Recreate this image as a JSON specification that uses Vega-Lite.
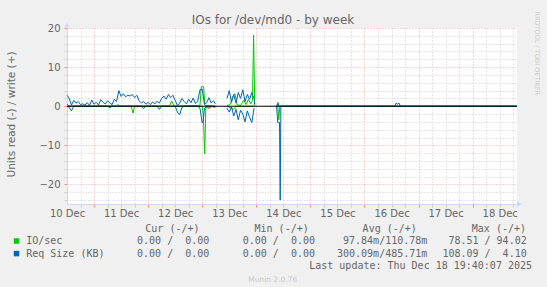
{
  "$schema": "https://vega.github.io/schema/vega-lite/v6.json",
  "width": 450,
  "height": 176,
  "autosize": {"type": "none"},
  "padding": {"left": 67, "top": 28, "right": 30, "bottom": 83},
  "background": "#f0f0f0",
  "config": {
    "view": {"fill": "#ffffff", "stroke": null},
    "font": "DejaVu Sans",
    "axis": {"labelFont": "DejaVu Sans", "titleFont": "DejaVu Sans", "labelColor": "#666666", "titleColor": "#666666"}
  },
  "datasets": {
    "io": [
      {"h":12,"s":"IO/sec","d":"w","seg":1,"v":0.5},{"h":13,"s":"IO/sec","d":"w","seg":1,"v":0.1},{"h":34,"s":"IO/sec","d":"w","seg":1,"v":0.1},{"h":34.6,"s":"IO/sec","d":"w","seg":1,"v":0.5},{"h":35.2,"s":"IO/sec","d":"w","seg":1,"v":0.1},{"h":57.5,"s":"IO/sec","d":"w","seg":1,"v":0.1},{"h":58.5,"s":"IO/sec","d":"w","seg":1,"v":1.3},{"h":59.5,"s":"IO/sec","d":"w","seg":1,"v":0.1},{"h":71,"s":"IO/sec","d":"w","seg":1,"v":0.2},{"h":71.6,"s":"IO/sec","d":"w","seg":1,"v":5.0},{"h":72.6,"s":"IO/sec","d":"w","seg":1,"v":5.0},{"h":73.2,"s":"IO/sec","d":"w","seg":1,"v":0.2},{"h":77.8,"s":"IO/sec","d":"w","seg":1,"v":0.1},
      {"h":83,"s":"IO/sec","d":"w","seg":2,"v":0.1},{"h":84.5,"s":"IO/sec","d":"w","seg":2,"v":0.5},{"h":85.5,"s":"IO/sec","d":"w","seg":2,"v":2.5},{"h":86.5,"s":"IO/sec","d":"w","seg":2,"v":3.2},{"h":87.5,"s":"IO/sec","d":"w","seg":2,"v":0.4},{"h":89,"s":"IO/sec","d":"w","seg":2,"v":0.2},{"h":90.5,"s":"IO/sec","d":"w","seg":2,"v":1.6},{"h":91.5,"s":"IO/sec","d":"w","seg":2,"v":0.4},{"h":92.5,"s":"IO/sec","d":"w","seg":2,"v":1.8},{"h":93.5,"s":"IO/sec","d":"w","seg":2,"v":0.6},{"h":94.3,"s":"IO/sec","d":"w","seg":2,"v":1.5},{"h":94.8,"s":"IO/sec","d":"w","seg":2,"v":18.2},{"h":95.3,"s":"IO/sec","d":"w","seg":2,"v":0.2},
      {"h":105,"s":"IO/sec","d":"w","seg":3,"v":0},{"h":105.6,"s":"IO/sec","d":"w","seg":3,"v":1.0},{"h":106.1,"s":"IO/sec","d":"w","seg":3,"v":0},{"h":211.5,"s":"IO/sec","d":"w","seg":3,"v":0},
      {"h":12,"s":"IO/sec","d":"r","seg":1,"v":0},{"h":40.5,"s":"IO/sec","d":"r","seg":1,"v":0},{"h":41.3,"s":"IO/sec","d":"r","seg":1,"v":-1.8},{"h":42,"s":"IO/sec","d":"r","seg":1,"v":0},{"h":72,"s":"IO/sec","d":"r","seg":1,"v":0},{"h":72.5,"s":"IO/sec","d":"r","seg":1,"v":-2.5},{"h":73.1,"s":"IO/sec","d":"r","seg":1,"v":-12.2},{"h":73.6,"s":"IO/sec","d":"r","seg":1,"v":-0.3},{"h":77.8,"s":"IO/sec","d":"r","seg":1,"v":0},
      {"h":83,"s":"IO/sec","d":"r","seg":2,"v":0},{"h":86,"s":"IO/sec","d":"r","seg":2,"v":-0.8},{"h":87,"s":"IO/sec","d":"r","seg":2,"v":0},{"h":95.3,"s":"IO/sec","d":"r","seg":2,"v":0},
      {"h":105,"s":"IO/sec","d":"r","seg":3,"v":0},{"h":105.6,"s":"IO/sec","d":"r","seg":3,"v":-0.3},{"h":106,"s":"IO/sec","d":"r","seg":3,"v":-3.5},{"h":106.4,"s":"IO/sec","d":"r","seg":3,"v":0},{"h":211.5,"s":"IO/sec","d":"r","seg":3,"v":0},
      {"h":12,"s":"Req Size (KB)","d":"w","seg":1,"v":2.8},{"h":13,"s":"Req Size (KB)","d":"w","seg":1,"v":2.0},{"h":14,"s":"Req Size (KB)","d":"w","seg":1,"v":0.3},{"h":15,"s":"Req Size (KB)","d":"w","seg":1,"v":1.5},{"h":16,"s":"Req Size (KB)","d":"w","seg":1,"v":0.8},{"h":17,"s":"Req Size (KB)","d":"w","seg":1,"v":1.2},{"h":18,"s":"Req Size (KB)","d":"w","seg":1,"v":0.4},{"h":19,"s":"Req Size (KB)","d":"w","seg":1,"v":0.6},{"h":20,"s":"Req Size (KB)","d":"w","seg":1,"v":0.3},{"h":21,"s":"Req Size (KB)","d":"w","seg":1,"v":0.9},{"h":22,"s":"Req Size (KB)","d":"w","seg":1,"v":0.2},{"h":23,"s":"Req Size (KB)","d":"w","seg":1,"v":1.6},{"h":24,"s":"Req Size (KB)","d":"w","seg":1,"v":0.5},{"h":25,"s":"Req Size (KB)","d":"w","seg":1,"v":1.0},{"h":26,"s":"Req Size (KB)","d":"w","seg":1,"v":0.3},{"h":27,"s":"Req Size (KB)","d":"w","seg":1,"v":1.7},{"h":28,"s":"Req Size (KB)","d":"w","seg":1,"v":1.0},{"h":29,"s":"Req Size (KB)","d":"w","seg":1,"v":0.6},{"h":30,"s":"Req Size (KB)","d":"w","seg":1,"v":1.4},{"h":31,"s":"Req Size (KB)","d":"w","seg":1,"v":0.9},{"h":32,"s":"Req Size (KB)","d":"w","seg":1,"v":0.4},{"h":33,"s":"Req Size (KB)","d":"w","seg":1,"v":1.8},{"h":34,"s":"Req Size (KB)","d":"w","seg":1,"v":1.2},{"h":35,"s":"Req Size (KB)","d":"w","seg":1,"v":4.0},{"h":36,"s":"Req Size (KB)","d":"w","seg":1,"v":2.5},{"h":37,"s":"Req Size (KB)","d":"w","seg":1,"v":3.2},{"h":38,"s":"Req Size (KB)","d":"w","seg":1,"v":2.4},{"h":39,"s":"Req Size (KB)","d":"w","seg":1,"v":2.8},{"h":40,"s":"Req Size (KB)","d":"w","seg":1,"v":2.6},{"h":41,"s":"Req Size (KB)","d":"w","seg":1,"v":3.0},{"h":42,"s":"Req Size (KB)","d":"w","seg":1,"v":2.2},{"h":43,"s":"Req Size (KB)","d":"w","seg":1,"v":2.8},{"h":44,"s":"Req Size (KB)","d":"w","seg":1,"v":1.4},{"h":45,"s":"Req Size (KB)","d":"w","seg":1,"v":0.8},{"h":46,"s":"Req Size (KB)","d":"w","seg":1,"v":1.2},{"h":47,"s":"Req Size (KB)","d":"w","seg":1,"v":0.5},{"h":48,"s":"Req Size (KB)","d":"w","seg":1,"v":1.0},{"h":49,"s":"Req Size (KB)","d":"w","seg":1,"v":0.4},{"h":50,"s":"Req Size (KB)","d":"w","seg":1,"v":1.1},{"h":51,"s":"Req Size (KB)","d":"w","seg":1,"v":0.6},{"h":52,"s":"Req Size (KB)","d":"w","seg":1,"v":1.3},{"h":53,"s":"Req Size (KB)","d":"w","seg":1,"v":0.8},{"h":54,"s":"Req Size (KB)","d":"w","seg":1,"v":2.0},{"h":55,"s":"Req Size (KB)","d":"w","seg":1,"v":2.6},{"h":56,"s":"Req Size (KB)","d":"w","seg":1,"v":1.8},{"h":57,"s":"Req Size (KB)","d":"w","seg":1,"v":3.0},{"h":58,"s":"Req Size (KB)","d":"w","seg":1,"v":2.2},{"h":59,"s":"Req Size (KB)","d":"w","seg":1,"v":2.8},{"h":60,"s":"Req Size (KB)","d":"w","seg":1,"v":1.5},{"h":61,"s":"Req Size (KB)","d":"w","seg":1,"v":0.2},{"h":62,"s":"Req Size (KB)","d":"w","seg":1,"v":0.8},{"h":63,"s":"Req Size (KB)","d":"w","seg":1,"v":2.0},{"h":64,"s":"Req Size (KB)","d":"w","seg":1,"v":1.2},{"h":65,"s":"Req Size (KB)","d":"w","seg":1,"v":0.6},{"h":66,"s":"Req Size (KB)","d":"w","seg":1,"v":1.8},{"h":67,"s":"Req Size (KB)","d":"w","seg":1,"v":0.9},{"h":68,"s":"Req Size (KB)","d":"w","seg":1,"v":2.1},{"h":69,"s":"Req Size (KB)","d":"w","seg":1,"v":0.7},{"h":70,"s":"Req Size (KB)","d":"w","seg":1,"v":1.3},{"h":71,"s":"Req Size (KB)","d":"w","seg":1,"v":4.2},{"h":72,"s":"Req Size (KB)","d":"w","seg":1,"v":4.3},{"h":73,"s":"Req Size (KB)","d":"w","seg":1,"v":0.5},{"h":74,"s":"Req Size (KB)","d":"w","seg":1,"v":0.9},{"h":75,"s":"Req Size (KB)","d":"w","seg":1,"v":2.2},{"h":76,"s":"Req Size (KB)","d":"w","seg":1,"v":0.8},{"h":77,"s":"Req Size (KB)","d":"w","seg":1,"v":1.4},{"h":77.8,"s":"Req Size (KB)","d":"w","seg":1,"v":0.6},
      {"h":83,"s":"Req Size (KB)","d":"w","seg":2,"v":2.0},{"h":84,"s":"Req Size (KB)","d":"w","seg":2,"v":4.0},{"h":85,"s":"Req Size (KB)","d":"w","seg":2,"v":1.0},{"h":86,"s":"Req Size (KB)","d":"w","seg":2,"v":3.0},{"h":87,"s":"Req Size (KB)","d":"w","seg":2,"v":0.8},{"h":88,"s":"Req Size (KB)","d":"w","seg":2,"v":3.5},{"h":89,"s":"Req Size (KB)","d":"w","seg":2,"v":2.0},{"h":90,"s":"Req Size (KB)","d":"w","seg":2,"v":4.2},{"h":91,"s":"Req Size (KB)","d":"w","seg":2,"v":1.2},{"h":92,"s":"Req Size (KB)","d":"w","seg":2,"v":3.0},{"h":93,"s":"Req Size (KB)","d":"w","seg":2,"v":1.8},{"h":94,"s":"Req Size (KB)","d":"w","seg":2,"v":3.5},{"h":95,"s":"Req Size (KB)","d":"w","seg":2,"v":2.0},{"h":95.3,"s":"Req Size (KB)","d":"w","seg":2,"v":0.5},
      {"h":105,"s":"Req Size (KB)","d":"w","seg":3,"v":0},{"h":105.5,"s":"Req Size (KB)","d":"w","seg":3,"v":0.6},{"h":106,"s":"Req Size (KB)","d":"w","seg":3,"v":0},{"h":157.5,"s":"Req Size (KB)","d":"w","seg":3,"v":0},{"h":158,"s":"Req Size (KB)","d":"w","seg":3,"v":0.8},{"h":158.7,"s":"Req Size (KB)","d":"w","seg":3,"v":0.5},{"h":159.3,"s":"Req Size (KB)","d":"w","seg":3,"v":0.8},{"h":160,"s":"Req Size (KB)","d":"w","seg":3,"v":0},{"h":211.5,"s":"Req Size (KB)","d":"w","seg":3,"v":0},
      {"h":12,"s":"Req Size (KB)","d":"r","seg":1,"v":0},{"h":13,"s":"Req Size (KB)","d":"r","seg":1,"v":-0.3},{"h":14,"s":"Req Size (KB)","d":"r","seg":1,"v":-1.2},{"h":15,"s":"Req Size (KB)","d":"r","seg":1,"v":0},{"h":30,"s":"Req Size (KB)","d":"r","seg":1,"v":0},{"h":31,"s":"Req Size (KB)","d":"r","seg":1,"v":-0.4},{"h":32,"s":"Req Size (KB)","d":"r","seg":1,"v":0},{"h":45,"s":"Req Size (KB)","d":"r","seg":1,"v":0},{"h":46,"s":"Req Size (KB)","d":"r","seg":1,"v":-0.6},{"h":47,"s":"Req Size (KB)","d":"r","seg":1,"v":0},{"h":52,"s":"Req Size (KB)","d":"r","seg":1,"v":0},{"h":53,"s":"Req Size (KB)","d":"r","seg":1,"v":-0.8},{"h":54,"s":"Req Size (KB)","d":"r","seg":1,"v":0},{"h":60,"s":"Req Size (KB)","d":"r","seg":1,"v":0},{"h":61,"s":"Req Size (KB)","d":"r","seg":1,"v":-1.5},{"h":62,"s":"Req Size (KB)","d":"r","seg":1,"v":-2.2},{"h":63,"s":"Req Size (KB)","d":"r","seg":1,"v":-0.3},{"h":64,"s":"Req Size (KB)","d":"r","seg":1,"v":0},{"h":70,"s":"Req Size (KB)","d":"r","seg":1,"v":0},{"h":71,"s":"Req Size (KB)","d":"r","seg":1,"v":-0.5},{"h":72,"s":"Req Size (KB)","d":"r","seg":1,"v":-4.3},{"h":72.5,"s":"Req Size (KB)","d":"r","seg":1,"v":-3.5},{"h":73,"s":"Req Size (KB)","d":"r","seg":1,"v":-0.5},{"h":74,"s":"Req Size (KB)","d":"r","seg":1,"v":0},{"h":75,"s":"Req Size (KB)","d":"r","seg":1,"v":-0.6},{"h":76,"s":"Req Size (KB)","d":"r","seg":1,"v":0},{"h":77.8,"s":"Req Size (KB)","d":"r","seg":1,"v":-0.3},
      {"h":83,"s":"Req Size (KB)","d":"r","seg":2,"v":-0.5},{"h":84,"s":"Req Size (KB)","d":"r","seg":2,"v":-1.5},{"h":85,"s":"Req Size (KB)","d":"r","seg":2,"v":-0.2},{"h":86,"s":"Req Size (KB)","d":"r","seg":2,"v":-2.5},{"h":87,"s":"Req Size (KB)","d":"r","seg":2,"v":-0.8},{"h":88,"s":"Req Size (KB)","d":"r","seg":2,"v":-3.5},{"h":89,"s":"Req Size (KB)","d":"r","seg":2,"v":-1.0},{"h":90,"s":"Req Size (KB)","d":"r","seg":2,"v":-2.0},{"h":91,"s":"Req Size (KB)","d":"r","seg":2,"v":-4.0},{"h":92,"s":"Req Size (KB)","d":"r","seg":2,"v":-1.2},{"h":93,"s":"Req Size (KB)","d":"r","seg":2,"v":-2.8},{"h":94,"s":"Req Size (KB)","d":"r","seg":2,"v":-4.2},{"h":95,"s":"Req Size (KB)","d":"r","seg":2,"v":-0.5},
      {"h":105,"s":"Req Size (KB)","d":"r","seg":3,"v":0},{"h":105.5,"s":"Req Size (KB)","d":"r","seg":3,"v":-4.1},{"h":106.3,"s":"Req Size (KB)","d":"r","seg":3,"v":-4.1},{"h":106.6,"s":"Req Size (KB)","d":"r","seg":3,"v":-24},{"h":106.9,"s":"Req Size (KB)","d":"r","seg":3,"v":0},{"h":211.5,"s":"Req Size (KB)","d":"r","seg":3,"v":0}
    ],
    "legend": [
      {"name": "IO/sec", "cur": "0.00\u00a0/\u00a0\u00a00.00", "min": "0.00\u00a0/\u00a0\u00a00.00", "avg": "97.84m/110.78m", "max": "78.51\u00a0/\u00a094.02"},
      {"name": "Req\u00a0Size\u00a0(KB)", "cur": "0.00\u00a0/\u00a0\u00a00.00", "min": "0.00\u00a0/\u00a0\u00a00.00", "avg": "300.09m/485.71m", "max": "108.09\u00a0/\u00a0\u00a04.10"}
    ]
  },
  "resolve": {"axis": {"x": "independent", "y": "independent"}},
  "layer": [
    {
      "data": {"name": "io"},
      "mark": {"type": "line", "strokeWidth": 1},
      "encoding": {
        "x": {
          "field": "h", "type": "quantitative",
          "scale": {"domain": [12, 211.67], "nice": false, "zero": false},
          "axis": {"orient": "bottom", "title": null, "values": [18,30,36,42,54,60,66,78,84,90,102,108,114,126,132,138,150,156,162,174,180,186,198,204,210], "grid": true, "gridColor": "#cccccc", "gridDash": [1, 2], "ticks": true, "tickColor": "#cccccc", "tickSize": 3, "labels": false, "domain": false}
        },
        "y": {
          "field": "v", "type": "quantitative",
          "scale": {"domain": [-25, 20], "nice": false, "zero": false},
          "axis": {"orient": "left", "title": null, "values": [-24,-22,-18,-16,-14,-12,-8,-6,-4,-2,2,4,6,8,12,14,16,18], "grid": true, "gridColor": "#cccccc", "gridDash": [1, 2], "ticks": true, "tickColor": "#cccccc", "tickSize": 3, "labels": false, "domain": false}
        },
        "color": {"field": "s", "type": "nominal", "scale": {"domain": ["IO/sec", "Req Size (KB)", "Req\u00a0Size\u00a0(KB)"], "range": ["#00cc00", "#0066b3", "#0066b3"]}, "legend": null},
        "detail": [{"field": "d", "type": "nominal"}, {"field": "seg", "type": "nominal"}]
      }
    },
    {
      "data": {"values": [{}]},
      "mark": {"type": "rule", "color": "#000000", "strokeWidth": 1},
      "encoding": {
        "x": {"datum": 12, "type": "quantitative", "axis": {"orient": "bottom", "title": null, "values": [24,48,72,96,120,144,168,192], "grid": true, "gridColor": "#f0a8a8", "gridDash": [1, 2], "ticks": true, "tickColor": "#f08888", "tickSize": 3, "labels": false, "domain": false}},
        "x2": {"datum": 211.67},
        "y": {"datum": 0, "type": "quantitative", "axis": {"orient": "left", "title": "Units read (-) / write (+)", "titleX": -56, "titleY": 86, "titleAngle": -90, "titleAlign": "center", "titleBaseline": "middle", "titleFontSize": 10.5, "titleFontWeight": "normal", "values": [-20,-10,0,10,20], "grid": true, "gridColor": "#f0a8a8", "gridDash": [1, 2], "ticks": true, "tickColor": "#f08888", "tickSize": 3, "labels": true, "labelFontSize": 10, "labelPadding": 4, "labelBaseline": "middle", "domain": true, "domainColor": "#cfd6f8"}}
      }
    },
    {
      "data": {"values": [{}]},
      "mark": {"type": "point", "shape": "triangle-up", "filled": true, "size": 28, "color": "#cfd6f8", "opacity": 1},
      "encoding": {
        "x": {"datum": 12, "type": "quantitative", "axis": {"orient": "bottom", "title": null, "values": [12,36,60,84,108,132,156,180,204], "labelExpr": "toString((datum.value - 12) / 24 + 10) + ' Dec'", "labelFlush": false, "labelOverlap": false, "grid": false, "ticks": false, "labels": true, "labelFontSize": 10, "labelPadding": 4, "domain": true, "domainColor": "#cfd6f8"}},
        "y": {"datum": 20.8, "type": "quantitative", "axis": null}
      }
    },
    {
      "data": {"values": [{}]},
      "mark": {"type": "point", "shape": "triangle-right", "filled": true, "size": 28, "color": "#cfd6f8", "opacity": 1},
      "encoding": {
        "x": {"datum": 212.8, "type": "quantitative", "axis": null},
        "y": {"datum": -25, "type": "quantitative", "axis": null}
      }
    },
    {
      "data": {"values": [{}]},
      "mark": {"type": "text", "font": "DejaVu Sans", "fontSize": 12, "color": "#666666", "align": "center", "baseline": "middle"},
      "encoding": {"x": {"datum": 103.4, "type": "quantitative", "axis": null}, "y": {"datum": 22.05, "type": "quantitative", "axis": null}, "text": {"value": "IOs for /dev/md0 - by week"}}
    },
    {
      "data": {"values": [{}]},
      "encoding": {"y": {"datum": -31.34, "type": "quantitative", "axis": null}},
      "layer": [
        {"mark": {"type": "text", "font": "DejaVu Sans Mono", "fontSize": 10, "color": "#666666", "align": "right", "baseline": "middle"}, "encoding": {"x": {"datum": 70.79, "type": "quantitative", "axis": null}, "text": {"value": "Cur\u00a0(-/+)"}}},
        {"mark": {"type": "text", "font": "DejaVu Sans Mono", "fontSize": 10, "color": "#666666", "align": "right", "baseline": "middle"}, "encoding": {"x": {"datum": 119.25, "type": "quantitative", "axis": null}, "text": {"value": "Min\u00a0(-/+)"}}},
        {"mark": {"type": "text", "font": "DejaVu Sans Mono", "fontSize": 10, "color": "#666666", "align": "right", "baseline": "middle"}, "encoding": {"x": {"datum": 167.21, "type": "quantitative", "axis": null}, "text": {"value": "Avg\u00a0(-/+)"}}},
        {"mark": {"type": "text", "font": "DejaVu Sans Mono", "fontSize": 10, "color": "#666666", "align": "right", "baseline": "middle"}, "encoding": {"x": {"datum": 215.67, "type": "quantitative", "axis": null}, "text": {"value": "Max\u00a0(-/+)"}}}
      ]
    },
    {
      "data": {"name": "legend"},
      "transform": [{"filter": "datum.name === 'IO/sec'"}],
      "encoding": {"y": {"datum": -34.46, "type": "quantitative", "axis": null}},
      "layer": [
        {"mark": {"type": "point", "shape": "square", "filled": true, "size": 30, "opacity": 1}, "encoding": {"x": {"datum": -10.4, "type": "quantitative", "axis": null}, "color": {"field": "name", "type": "nominal", "legend": null}}},
        {"mark": {"type": "text", "font": "DejaVu Sans Mono", "fontSize": 10, "color": "#666666", "align": "left", "baseline": "middle"}, "encoding": {"x": {"datum": -6.1, "type": "quantitative", "axis": null}, "text": {"field": "name"}}},
        {"mark": {"type": "text", "font": "DejaVu Sans Mono", "fontSize": 10, "color": "#666666", "align": "right", "baseline": "middle"}, "encoding": {"x": {"datum": 75.14, "type": "quantitative", "axis": null}, "text": {"field": "cur"}}},
        {"mark": {"type": "text", "font": "DejaVu Sans Mono", "fontSize": 10, "color": "#666666", "align": "right", "baseline": "middle"}, "encoding": {"x": {"datum": 122.04, "type": "quantitative", "axis": null}, "text": {"field": "min"}}},
        {"mark": {"type": "text", "font": "DejaVu Sans Mono", "fontSize": 10, "color": "#666666", "align": "right", "baseline": "middle"}, "encoding": {"x": {"datum": 171.87, "type": "quantitative", "axis": null}, "text": {"field": "avg"}}},
        {"mark": {"type": "text", "font": "DejaVu Sans Mono", "fontSize": 10, "color": "#666666", "align": "right", "baseline": "middle"}, "encoding": {"x": {"datum": 215.98, "type": "quantitative", "axis": null}, "text": {"field": "max"}}}
      ]
    },
    {
      "data": {"name": "legend"},
      "transform": [{"filter": "datum.name !== 'IO/sec'"}],
      "encoding": {"y": {"datum": -37.68, "type": "quantitative", "axis": null}},
      "layer": [
        {"mark": {"type": "point", "shape": "square", "filled": true, "size": 30, "opacity": 1}, "encoding": {"x": {"datum": -10.4, "type": "quantitative", "axis": null}, "color": {"field": "name", "type": "nominal", "legend": null}}},
        {"mark": {"type": "text", "font": "DejaVu Sans Mono", "fontSize": 10, "color": "#666666", "align": "left", "baseline": "middle"}, "encoding": {"x": {"datum": -6.1, "type": "quantitative", "axis": null}, "text": {"field": "name"}}},
        {"mark": {"type": "text", "font": "DejaVu Sans Mono", "fontSize": 10, "color": "#666666", "align": "right", "baseline": "middle"}, "encoding": {"x": {"datum": 75.14, "type": "quantitative", "axis": null}, "text": {"field": "cur"}}},
        {"mark": {"type": "text", "font": "DejaVu Sans Mono", "fontSize": 10, "color": "#666666", "align": "right", "baseline": "middle"}, "encoding": {"x": {"datum": 122.04, "type": "quantitative", "axis": null}, "text": {"field": "min"}}},
        {"mark": {"type": "text", "font": "DejaVu Sans Mono", "fontSize": 10, "color": "#666666", "align": "right", "baseline": "middle"}, "encoding": {"x": {"datum": 171.87, "type": "quantitative", "axis": null}, "text": {"field": "avg"}}},
        {"mark": {"type": "text", "font": "DejaVu Sans Mono", "fontSize": 10, "color": "#666666", "align": "right", "baseline": "middle"}, "encoding": {"x": {"datum": 215.98, "type": "quantitative", "axis": null}, "text": {"field": "max"}}}
      ]
    },
    {
      "data": {"values": [{}]},
      "mark": {"type": "text", "font": "DejaVu Sans Mono", "fontSize": 10, "color": "#666666", "align": "right", "baseline": "middle"},
      "encoding": {"x": {"datum": 218.33, "type": "quantitative", "axis": null}, "y": {"datum": -40.98, "type": "quantitative", "axis": null}, "text": {"value": "Last\u00a0update:\u00a0Thu\u00a0Dec\u00a018\u00a019:40:07\u00a02025"}}
    },
    {
      "data": {"values": [{}]},
      "mark": {"type": "text", "font": "DejaVu Sans", "fontSize": 7.5, "color": "#c8c8c8", "align": "center", "baseline": "middle"},
      "encoding": {"x": {"datum": 103.27, "type": "quantitative", "axis": null}, "y": {"datum": -44.43, "type": "quantitative", "axis": null}, "text": {"value": "Munin 2.0.76"}}
    },
    {
      "data": {"values": [{}]},
      "mark": {"type": "text", "font": "DejaVu Sans", "fontSize": 6.5, "color": "#cccccc", "align": "center", "baseline": "middle", "angle": 90},
      "encoding": {"x": {"datum": 220.63, "type": "quantitative", "axis": null}, "y": {"datum": 13.51, "type": "quantitative", "axis": null}, "text": {"value": "RRDTOOL / TOBI OETIKER"}}
    }
  ]
}
